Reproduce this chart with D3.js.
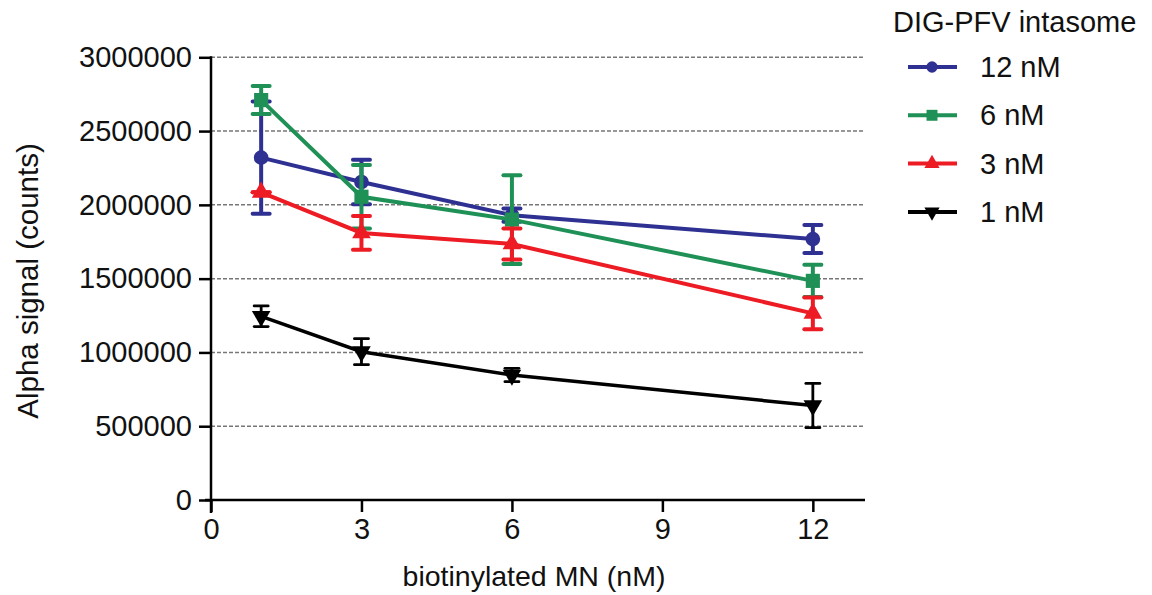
<!DOCTYPE html>
<html>
<head>
<meta charset="utf-8">
<script src="https://cdn.jsdelivr.net/npm/d3@7"></script>
<style>
  body { margin: 0; background: #fff; }
  svg text { font-family: "Liberation Sans", Arial, sans-serif; fill: #111; }
</style>
</head>
<body>
<svg width="1152" height="595"></svg>
<script>
// data
var doses = [1, 3, 6, 12];
var seriesNames = ["12 nM", "6 nM", "3 nM", "1 nM"];
var mean12 = [2320000, 2155000, 1930000, 1768000];
var sd12 = [380000, 150000, 45000, 95000];
var mean6 = [2710000, 2055000, 1900000, 1485000];
var sd6 = [95000, 215000, 300000, 110000];
var mean3 = [2085000, 1810000, 1735000, 1265000];
var sd3 = [0, 115000, 105000, 108000];
var mean1 = [1245000, 1005000, 847000, 640000];
var sd1 = [70000, 88000, 45000, 150000];
var xTicks = [0, 3, 6, 9, 12];
var yTicks = [0, 500000, 1000000, 1500000, 2000000, 2500000, 3000000];

var series = [
    {name: seriesNames[0], mean: mean12, sd: sd12, color: "#2e3192", shape: "circle"},
    {name: seriesNames[1], mean: mean6, sd: sd6, color: "#1f9157", shape: "square"},
    {name: seriesNames[2], mean: mean3, sd: sd3, color: "#ed1c24", shape: "triangle"},
    {name: seriesNames[3], mean: mean1, sd: sd1, color: "#000000", shape: "down"}
];

var svg = d3.select("svg");

var x = d3.scaleLinear().domain([0, 13]).range([211, 863]);
var y = d3.scaleLinear().domain([0, 3000000]).range([500, 57.3]);

// gridlines
svg.append("g")
    .selectAll("line")
    .data(yTicks.slice(1))
    .enter()
    .append("line")
    .attr("x1", x(0))
    .attr("x2", x(13))
    .attr("y1", function (d) { return y(d); })
    .attr("y2", function (d) { return y(d); })
    .attr("stroke", "#777")
    .attr("stroke-width", 1.5)
    .attr("stroke-dasharray", "4,2");

// axes
var yAxis = svg.append("g")
    .attr("transform", "translate(" + x(0) + ",0)")
    .call(d3.axisLeft(y).tickValues(yTicks).tickSize(12).tickPadding(7).tickFormat(d3.format("d")));
yAxis.select(".domain").remove();
yAxis.append("line")
    .attr("x1", 0).attr("x2", 0)
    .attr("y1", y(3000000) - 1).attr("y2", 513)
    .attr("stroke", "#000").attr("stroke-width", 2.5);

var xAxis = svg.append("g")
    .attr("transform", "translate(0," + y(0) + ")")
    .call(d3.axisBottom(x).tickValues(xTicks).tickSize(12).tickPadding(6));
xAxis.select(".domain").remove();
xAxis.append("line")
    .attr("x1", 205).attr("x2", x(13) + 2)
    .attr("y1", 0).attr("y2", 0)
    .attr("stroke", "#000").attr("stroke-width", 2.5);

svg.selectAll(".tick line").attr("stroke", "#000").attr("stroke-width", 2.5);
svg.selectAll(".tick text").style("font-size", "29px").attr("fill", "#111");

// axis titles
svg.append("text")
    .attr("x", 534)
    .attr("y", 586)
    .attr("text-anchor", "middle")
    .style("font-size", "28.5px")
    .text("biotinylated MN (nM)");

svg.append("text")
    .attr("transform", "translate(38,281) rotate(-90)")
    .attr("text-anchor", "middle")
    .style("font-size", "29.5px")
    .text("Alpha signal (counts)");

var shapes = {
    circle: d3.symbol().type(d3.symbolCircle).size(170),
    square: d3.symbol().type(d3.symbolSquare).size(200),
    triangle: d3.symbol().type(d3.symbolTriangle).size(150),
    down: d3.symbol().type(d3.symbolTriangle).size(150)
};

var line = d3.line()
    .x(function (d, i) { return x(doses[i]); })
    .y(function (d) { return y(d); });

series.forEach(function (s) {
    var g = svg.append("g");
    var w = s.color === "#000000" ? 2.8 : 4;
    var capHalf = s.color === "#000000" ? 7 : 8.5;

    // error bars
    var eb = g.selectAll("g.eb")
        .data(doses)
        .enter()
        .append("g");
    eb.append("line")
        .attr("x1", function (d) { return x(d); })
        .attr("x2", function (d) { return x(d); })
        .attr("y1", function (d, i) { return y(s.mean[i] + s.sd[i]); })
        .attr("y2", function (d, i) { return y(s.mean[i] - s.sd[i]); })
        .attr("stroke", s.color).attr("stroke-width", w);
    [1, -1].forEach(function (sign) {
        eb.append("line")
            .attr("x1", function (d) { return x(d) - capHalf; })
            .attr("x2", function (d) { return x(d) + capHalf; })
            .attr("y1", function (d, i) { return y(s.mean[i] + sign * s.sd[i]); })
            .attr("y2", function (d, i) { return y(s.mean[i] + sign * s.sd[i]); })
            .attr("stroke", s.color).attr("stroke-width", w)
            .attr("stroke-linecap", "round");
    });

    g.append("path")
        .datum(s.mean)
        .attr("fill", "none")
        .attr("stroke", s.color)
        .attr("stroke-width", s.color === "#000000" ? 3.5 : 4)
        .attr("d", line);

    g.selectAll("path.pt")
        .data(s.mean)
        .enter()
        .append("path")
        .attr("d", shapes[s.shape])
        .attr("transform", function (d, i) {
            return "translate(" + x(doses[i]) + "," + y(d) + ")" + (s.shape === "down" ? " rotate(180)" : "");
        })
        .attr("fill", s.color);
});

// legend
svg.append("text")
    .attr("x", 893)
    .attr("y", 32)
    .style("font-size", "29px")
    .text("DIG-PFV intasome");

var legend = svg.append("g")
    .selectAll("g")
    .data(series)
    .enter()
    .append("g")
    .attr("transform", function (d, i) { return "translate(0," + (67 + i * 48.3) + ")"; });

legend.append("line")
    .attr("x1", 908).attr("x2", 957)
    .attr("y1", 0).attr("y2", 0)
    .attr("stroke", function (d) { return d.color; })
    .attr("stroke-width", 4);
legend.append("path")
    .attr("d", function (d) { return d3.symbol().type(d.shape === "circle" ? d3.symbolCircle : d.shape === "square" ? d3.symbolSquare : d3.symbolTriangle).size(d.shape === "square" ? 120 : 100)(); })
    .attr("transform", function (d) { return "translate(932,0)" + (d.shape === "down" ? " rotate(180)" : ""); })
    .attr("fill", function (d) { return d.color; });
legend.append("text")
    .attr("x", 980)
    .attr("y", 10)
    .style("font-size", "29px")
    .text(function (d) { return d.name; });
</script>
</body>
</html>
